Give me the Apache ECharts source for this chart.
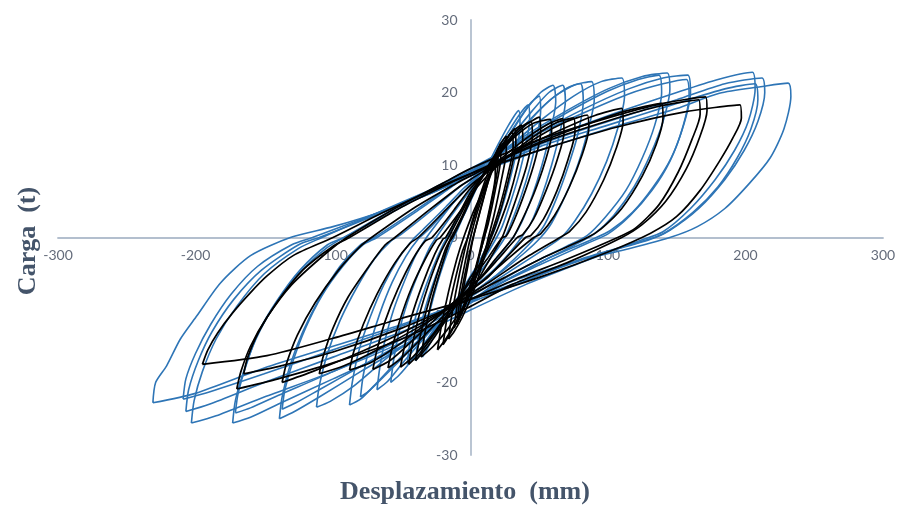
<!DOCTYPE html>
<html>
<head>
<meta charset="utf-8">
<script src="https://cdn.jsdelivr.net/npm/echarts@6/dist/echarts.min.js"></script>
<style>
  html, body { margin: 0; padding: 0; background: #fff; }
  #chart { width: 901px; height: 512px; }
</style>
</head>
<body>
<div id="chart"></div>
<script>
// tick values
const xTicks = [-300, -200, -100, 0, 100, 200, 300]
const yTicks = [-30, -20, -10, 0, 10, 20, 30]

// blue cycles [displacement mm, load t]
const blueLoop1 = [[-35,-16.5],[-33,-13],[-28,-9],[-22,-5],[-15,-1.2],[-12,0],[-5,3],[0,5],[10,9],[20,12.8],[28,15.6],[35,17.5],
  [36,15.5],[33,11.5],[28,7.5],[22,3.5],[17,0.8],[12,-1.2],[5,-3.8],[0,-5.3],[-10,-8.5],[-20,-11.5],[-29,-14.5],[-35,-16.5]]
const blueLoop2 = [[-46,-17.5],[-44,-14.5],[-40,-11],[-34,-7.5],[-27,-4],[-20,-1],[-16,0.3],[-8,3],[0,5.8],[12,9.5],[24,13],[36,16.5],[44,18.6],[50,19.5],
  [51,17.5],[48,13.5],[43,9.5],[37,5.8],[30,2.2],[25,0],[18,-2],[8,-4.5],[0,-6.2],[-12,-9.2],[-24,-12],[-35,-15],[-42,-16.8],[-46,-17.5]]
const blueLoop2b = [[-40,-17],[-38,-14],[-34,-10.5],[-28,-6.8],[-21,-3.2],[-15,-0.5],[-12,0.5],[-4,3.5],[3,6.5],[14,10.3],[25,13.8],[35,16.8],[42,18.3],
  [43,16.3],[40,12.5],[35,8.5],[29,4.8],[23,1.5],[19,0],[12,-2.3],[4,-4.8],[-4,-7],[-15,-10],[-26,-13],[-35,-15.8],[-40,-17]]
const blueLoop3 = [[-68,-21],[-66,-18],[-62,-14],[-56,-10],[-48,-6],[-40,-2.5],[-32,0],[-20,3],[-8,5.8],[0,7.2],[15,10.5],[30,14],[45,17.5],[57,20],[67,21],
  [69,18.8],[65,14.5],[59,10],[52,5.8],[44,2],[37,0],[28,-2.2],[15,-4.8],[0,-7.2],[-15,-10],[-32,-13.5],[-48,-17],[-60,-19.8],[-68,-21]]
const blueLoop3b = [[-58,-20],[-56,-17],[-52,-13],[-46,-9],[-38,-5],[-30,-1.5],[-25,0],[-14,3],[-3,5.8],[0,6.5],[14,10],[28,14],[40,17.5],[51,20],[60,21],
  [62,18.8],[58,14.5],[52,10],[45,5.8],[37,2],[31,0],[22,-2.2],[10,-5],[0,-6.8],[-14,-9.8],[-29,-13.5],[-43,-17],[-52,-19],[-58,-20]]
const blueLoop4 = [[-88,-23.1],[-86,-20],[-81,-15.5],[-73,-11],[-63,-6.5],[-52,-2.8],[-42,-0.3],[-35,1],[-18,4.2],[-5,6.8],[0,7.6],[20,11.5],[40,15.5],[58,19],[75,21],[88,21.5],
  [90,19],[85,14.5],[78,10],[69,5.8],[59,2],[51,0],[40,-2],[22,-4.8],[6,-7],[0,-7.8],[-25,-12],[-48,-16],[-68,-20],[-80,-22.3],[-88,-23.1]]
const blueLoop4b = [[-80,-22],[-78,-19],[-73,-14.8],[-66,-10.5],[-57,-6.2],[-47,-2.6],[-38,-0.2],[-30,1.2],[-14,4.5],[0,7.3],[18,11],[36,14.8],[54,18.3],[70,20.6],[80,21.2],
  [82,18.8],[78,14.2],[71,9.8],[63,5.6],[54,1.8],[47,0],[36,-2.2],[20,-5],[5,-7.2],[-20,-11.2],[-42,-15.2],[-62,-19],[-74,-21.2],[-80,-22]]
const blueLoop5 = [[-112,-23.4],[-110,-20.5],[-104,-16],[-95,-11.5],[-83,-7],[-70,-3],[-58,-0.5],[-50,0.5],[-28,3.8],[-8,7],[0,8],[25,12],[50,16],[75,19.5],[95,21.5],[110,22],
  [112,19.5],[107,15],[99,10.5],[88,6],[76,2.3],[66,0],[52,-1.8],[30,-4.5],[10,-7],[0,-8.2],[-30,-12.5],[-60,-16.5],[-85,-20.5],[-102,-22.6],[-112,-23.4]]
const blueLoop6 = [[-137,-23.7],[-135,-21],[-129,-17],[-120,-12.5],[-108,-8],[-93,-4],[-78,-1],[-68,0],[-40,3.5],[-15,6.8],[0,8.8],[35,13.2],[70,17.2],[100,20.2],[122,21.8],[137,22.4],
  [139,20],[134,15.5],[125,11],[113,6.5],[98,2.8],[85,0.3],[70,-1.2],[40,-4],[15,-6.8],[0,-8.8],[-40,-13.5],[-80,-17.8],[-110,-21],[-127,-22.8],[-137,-23.7]]
const blueLoop7 = [[-139,-25],[-137,-22],[-131,-17.5],[-122,-13],[-110,-8.5],[-95,-4],[-80,-1],[-70,0],[-42,3.5],[-15,7],[0,9],[35,13.5],[70,17.5],[100,20.5],[125,22.2],[143,22.7],
  [145,20.5],[140,16],[131,11.5],[119,7],[104,3],[90,0.5],[76,-1],[45,-4],[20,-6.5],[0,-9],[-40,-14],[-80,-18.5],[-110,-22],[-128,-24],[-139,-25]]
const blueLoop8 = [[-171,-24.2],[-169,-21.5],[-163,-17.5],[-154,-13],[-141,-8.8],[-124,-4.5],[-104,-1],[-92,0],[-60,3.2],[-25,6.8],[0,9.2],[40,13.5],[80,17.5],[115,20.5],[140,22],[158,22.4],
  [160,20],[155,15.5],[146,11],[133,7],[118,3.5],[102,1],[88,-0.3],[55,-3],[25,-6],[0,-8.7],[-50,-14],[-100,-18.5],[-140,-21.8],[-160,-23.5],[-171,-24.2]]
const blueLoop9 = [[-173,-25.6],[-171,-22.5],[-165,-18.5],[-156,-14],[-143,-9.5],[-125,-5],[-105,-1.5],[-92,0],[-60,3.5],[-25,7],[0,9.5],[40,13.5],[80,17],[115,19.8],[140,21.2],[157,21.8],
  [159,19.5],[154,15],[145,10.5],[132,6.5],[116,3],[100,0.5],[85,-0.8],[50,-3.8],[20,-6.5],[0,-9],[-50,-15],[-100,-19.5],[-140,-23],[-160,-24.8],[-173,-25.6]]
const blueLoop10 = [[-203,-25.6],[-201,-22.5],[-195,-18.5],[-185,-14],[-170,-9.5],[-150,-5],[-125,-1.5],[-108,0],[-70,3.2],[-30,6.5],[0,9],[50,13.2],[100,16.8],[150,20],[180,21.8],[205,22.8],
  [207,20.5],[202,16],[192,12],[178,8],[160,4],[140,0.8],[122,-0.5],[80,-3.5],[40,-6.5],[0,-10],[-50,-14.5],[-100,-18.5],[-150,-22],[-185,-24.6],[-203,-25.6]]
const blueLoop11 = [[-209,-22.3],[-207,-19.5],[-200,-16],[-189,-12],[-174,-7.8],[-155,-4],[-130,-1],[-115,0],[-80,2.5],[-40,5.5],[0,8.8],[50,12.8],[100,16],[150,19],[185,21.2],[212,22],
  [214,20],[209,16],[199,12],[185,8],[166,4],[145,1],[130,-0.3],[90,-2.5],[45,-5.5],[0,-8.5],[-50,-12.2],[-100,-15.5],[-150,-18.8],[-190,-21.3],[-209,-22.3]]
const blueLoop12 = [[-207,-24],[-205,-21],[-198,-17],[-188,-13],[-172,-8.5],[-152,-4.5],[-125,-1],[-110,0],[-70,3],[-30,6],[0,8.5],[50,12.5],[100,15.5],[150,18.5],[185,20.5],[207,21.2],
  [209,19],[204,15],[194,11],[180,7],[162,3.5],[140,0.5],[125,-0.5],[80,-3],[40,-6],[0,-9],[-50,-13],[-100,-16.5],[-150,-20],[-190,-23],[-207,-24]]
const blueLoop13 = [[-231,-22.8],[-229,-20],[-221,-17.7],[-211,-14],[-199,-10.8],[-182,-6.3],[-160,-2.5],[-131,0],[-100,1.5],[-64,3.6],[-30,6],[0,8.5],[50,12],[100,15],[150,17.8],[181,19.9],[211,20.8],[231,21.3],
  [233,19.5],[228,15],[218,11],[203,7.5],[185,4],[165,1.5],[145,0],[110,-1.8],[82,-3],[34,-5.8],[0,-8.5],[-50,-12],[-100,-15],[-150,-18],[-200,-21.5],[-231,-22.8]]

// black cycles
const blackLoop0 = [[-8,-11],[-6,-8],[-2,-4],[2,0],[6,3],[11,6.5],[15,8.8],[18,10],[18,8.5],[15,5],[11,1.5],[9,0],[6,-2.5],[1,-6],[-4,-9],[-8,-11]]
const blackLoop0b = [[-10,-12],[-8,-9],[-4,-5],[0,-1.5],[4,1.5],[9,5],[14,8.5],[20,12],[20,10.2],[17,6.5],[13,2.8],[10,0],[6,-2.8],[2,-6],[-4,-9.5],[-10,-12]]
const blackLoop1 = [[-16,-14],[-13,-10],[-8,-5],[-2,0],[4,4],[10,7.5],[17,11],[22,13],[26,14],[26,12],[22,7.5],[17,3],[13,0],[8,-4],[2,-7.5],[-6,-11],[-12,-13],[-16,-14]]
const blackLoop1b = [[-12,-12.5],[-9,-8.5],[-4,-3.5],[0,0],[5,3.5],[11,7],[17,10.5],[22,13],[22,11],[18,6.5],[13,2],[10,0],[5,-3.5],[-1,-7],[-7,-10.5],[-12,-12.5]]
const blackLoop2 = [[-24,-15.5],[-21,-12],[-16,-7.5],[-10,-3],[-5,0],[2,3.5],[6,5.2],[14,8.5],[21,11.5],[27,13.8],[32,15],[33,13],[29,9],[23,4.5],[18,1.5],[15,0],[10,-2.8],[5,-5],[-2,-8.5],[-10,-11.5],[-18,-14],[-24,-15.5]]
const blackLoop2b = [[-20,-14.8],[-17,-11],[-12,-6.5],[-6,-2],[-2,0],[4,3.5],[10,7],[17,10],[24,12.8],[30,14.5],[31,12.5],[27,8.5],[21,4],[16,1],[14,0],[8,-3],[2,-6.5],[-6,-10],[-14,-13],[-20,-14.8]]
const blackLoop3 = [[-40,-17],[-37,-14],[-32,-10],[-25,-5.5],[-18,-1.5],[-14,0],[-6,3],[0,5.5],[10,9],[20,12],[30,14.5],[37,15.5],[38,13.5],[34,9.7],[28,5.5],[21,1.8],[17,0],[9,-3],[0,-5.5],[-10,-9],[-20,-12],[-31,-15],[-40,-17]]
const blackLoop3b = [[-36,-16.5],[-33,-13],[-28,-8.5],[-21,-4],[-15,-0.5],[-13,0],[-4,3.5],[2,6],[12,9.5],[24,12.6],[35,15],[44,16],[45,14],[41,10],[34,5.8],[27,2],[23,0],[14,-3],[5,-6],[-5,-9.5],[-16,-12.5],[-27,-15],[-36,-16.5]]
const blackLoop4 = [[-51,-17.9],[-48,-15],[-43,-11],[-35,-6.5],[-26,-2.3],[-20,-0.2],[-18,0],[-8,3.4],[0,6.2],[14,9.8],[28,13.3],[40,15.5],[50,16.6],[51,14.5],[47,10.7],[40,6.5],[32,2.5],[26,0.2],[23,0],[12,-3],[4,-5],[0,-6],[-14,-9.8],[-28,-13.5],[-42,-16.5],[-51,-17.9]]
const blackLoop4b = [[-45,-17.5],[-42,-14.5],[-37,-10.5],[-30,-6.2],[-22,-2.2],[-16,0],[-6,3.6],[2,6.4],[16,10.2],[30,13.5],[45,15.7],[58,16.3],[59,14.3],[54,10.3],[46,6],[37,2.2],[31,0],[18,-3],[8,-5.4],[0,-6.8],[-12,-9.8],[-25,-13],[-37,-16],[-45,-17.5]]
const blackLoop5 = [[-71,-18.2],[-68,-15.5],[-62,-11.5],[-53,-7.2],[-42,-3],[-33,-0.5],[-28,0],[-12,3.8],[0,6.8],[20,10.5],[40,13.6],[56,15.6],[67,16.4],[68,14.5],[63,10.7],[55,6.5],[46,2.6],[38,0.4],[34,0],[20,-3],[8,-5.5],[0,-6.8],[-20,-10.3],[-40,-13.8],[-58,-16.9],[-71,-18.2]]
const blackLoop5b = [[-60,-18],[-57,-15.2],[-51,-11.2],[-43,-7],[-33,-3],[-25,-0.4],[-22,0],[-6,4],[5,7],[25,10.8],[45,13.8],[62,15.8],[75,16.5],[76,14.6],[71,10.8],[63,6.5],[53,2.5],[44,0.3],[40,0],[25,-3],[12,-5.6],[0,-7.3],[-18,-10.5],[-35,-13.8],[-50,-16.6],[-60,-18]]
const blackLoop6 = [[-88,-18.3],[-85,-15.8],[-78,-12],[-68,-7.8],[-55,-3.5],[-44,-0.8],[-38,0],[-18,3.8],[0,7.2],[25,10.8],[50,14],[70,16],[85,16.9],[86,15],[81,11.3],[72,7],[61,3],[51,0.5],[46,0],[28,-2.8],[10,-5.8],[0,-7.2],[-25,-10.8],[-50,-14.5],[-72,-17.2],[-88,-18.3]]
const blackLoop7 = [[-110,-18.8],[-107,-16.3],[-100,-12.5],[-89,-8.2],[-74,-4],[-62,-1],[-55,0],[-30,3.8],[-8,7],[0,8],[32,11.8],[65,14.8],[90,16.8],[110,17.8],[111,16],[106,12.3],[97,8],[84,3.5],[72,0.8],[65,0],[40,-2.8],[15,-6],[0,-7.8],[-30,-11.5],[-65,-15.2],[-92,-17.7],[-110,-18.8]]
const blackLoop8 = [[-137,-20],[-134,-17.5],[-126,-13.5],[-113,-9],[-96,-4.5],[-80,-1.2],[-72,0],[-40,4.2],[-10,7.5],[0,8.5],[40,12.3],[80,15.3],[112,17.4],[139,18.5],[140,16.5],[135,12.8],[125,8.5],[110,4],[95,1.2],[85,0],[55,-2.6],[25,-5.5],[0,-8],[-40,-12.2],[-80,-15.8],[-115,-18.5],[-137,-20]]
const blackLoop9 = [[-165,-18.8],[-162,-16.5],[-154,-13],[-141,-9],[-122,-4.5],[-100,-1.2],[-88,0],[-50,4.2],[-15,7.5],[0,8.8],[48,12.8],[95,15.8],[135,18],[166,19],[167,17],[161,13.5],[151,9],[137,4.5],[120,1.3],[107,0],[70,-3],[30,-6],[0,-8.5],[-50,-12.5],[-100,-15.8],[-140,-17.8],[-165,-18.8]]
const blackLoop10 = [[-170,-20.9],[-167,-18.5],[-160,-15],[-148,-11],[-130,-6.5],[-104,-2],[-90,0],[-55,4],[-20,7.5],[0,9.5],[50,13.5],[100,16.5],[140,18.5],[171,19.4],[172,17.5],[167,14],[157,9.5],[142,5],[125,1.8],[110,0],[70,-3.5],[30,-6.5],[0,-9.5],[-50,-14],[-100,-17.3],[-140,-19.5],[-170,-20.9]]
const blackLoop11 = [[-195,-17.5],[-191,-15.5],[-184,-13.2],[-173,-10.4],[-160,-7.6],[-148,-5.3],[-129,-2.5],[-100,0],[-64,3.4],[-25,6.8],[0,8.8],[21,10.2],[58,12.5],[106,15.2],[155,17.3],[196,18.3],[197,16.5],[191,13.8],[181,10.5],[167,6.5],[150,2.9],[131,0.6],[100,-2],[50,-5.5],[0,-8.5],[-51,-11.2],[-100,-13.9],[-148,-16.3],[-195,-17.5]]

const blueLoops = [blueLoop1, blueLoop2, blueLoop2b, blueLoop3, blueLoop3b, blueLoop4, blueLoop4b, blueLoop5,
  blueLoop6, blueLoop7, blueLoop8, blueLoop9, blueLoop10, blueLoop11, blueLoop12, blueLoop13]
const blackLoops = [blackLoop0, blackLoop0b, blackLoop1, blackLoop1b, blackLoop2, blackLoop2b, blackLoop3, blackLoop3b,
  blackLoop4, blackLoop4b, blackLoop5, blackLoop5b, blackLoop6, blackLoop7, blackLoop8, blackLoop9, blackLoop10, blackLoop11]

const chart = echarts.init(document.getElementById('chart'), null, { renderer: 'canvas' })

const loopSeries = (loop, color, width) => ({
  type: 'line',
  data: loop,
  smooth: 0.25,
  symbol: 'none',
  silent: true,
  lineStyle: { color: color, width: width }
})

// plot box: x 58..883, y 20..455 ; axes cross at the data origin
const gridBox = { left: 58, right: 18, top: 20, bottom: 57 }
const axisLineStyle = { color: '#b3bfce', width: 1.8 }
const tickLabel = { color: '#646c7b', fontSize: 14, fontFamily: 'Lato' }
const titleFont = 'bold 26px "Liberation Serif", "Times New Roman", serif'

const option = {
  animation: false,
  backgroundColor: '#ffffff',
  grid: { ...gridBox, containLabel: false },
  xAxis: {
    type: 'value',
    position: 'bottom',
    offset: -217.5,
    min: xTicks[0],
    max: xTicks[xTicks.length - 1],
    interval: 100,
    axisLine: { onZero: false, lineStyle: axisLineStyle },
    axisTick: { show: false },
    splitLine: { show: false },
    axisLabel: { ...tickLabel, margin: 11 }
  },
  yAxis: {
    type: 'value',
    position: 'left',
    offset: -412.5,
    min: yTicks[0],
    max: yTicks[yTicks.length - 1],
    interval: 10,
    axisLine: { show: true, onZero: false, lineStyle: axisLineStyle },
    axisTick: { show: false },
    splitLine: { show: false },
    axisLabel: { ...tickLabel, margin: 13 }
  },
  graphic: [
    {
      type: 'text',
      x: 465,
      y: 492,
      style: {
        text: 'Desplazamiento  (mm)',
        fill: '#44546a',
        font: titleFont,
        align: 'center',
        verticalAlign: 'middle'
      }
    },
    {
      type: 'text',
      x: 28,
      y: 241,
      rotation: Math.PI / 2,
      style: {
        text: 'Carga  (t)',
        fill: '#44546a',
        font: titleFont,
        align: 'center',
        verticalAlign: 'middle'
      }
    }
  ],
  series: [
    ...blueLoops.map(loop => loopSeries(loop, '#2e75b6', 1.6)),
    ...blackLoops.map(loop => loopSeries(loop, '#000000', 1.7))
  ]
}

chart.setOption(option)
</script>
</body>
</html>
